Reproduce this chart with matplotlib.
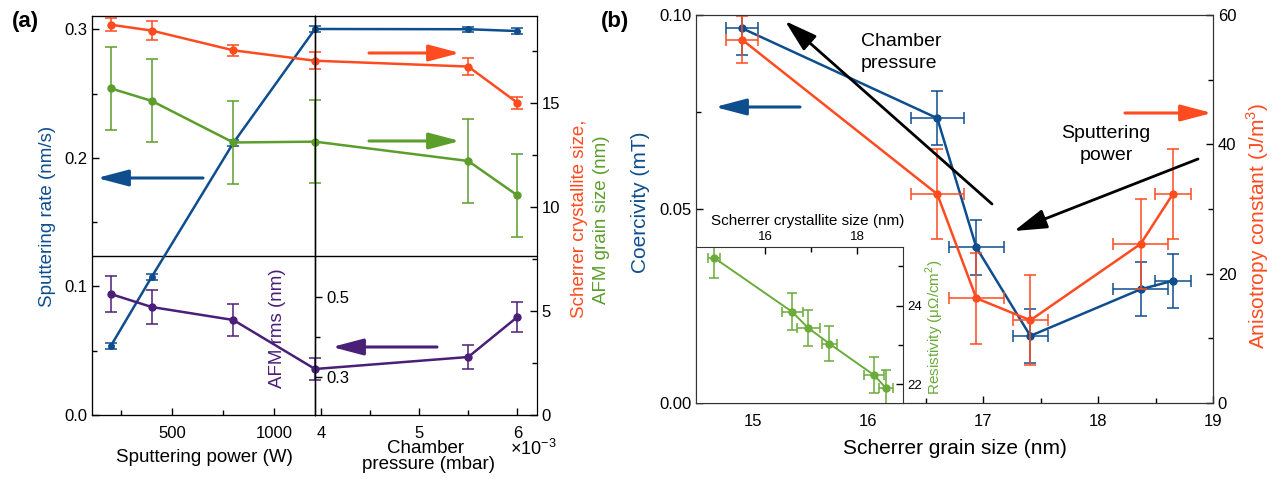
import matplotlib
matplotlib.use("Agg")
import matplotlib.pyplot as plt
import matplotlib.ticker as mticker

plt.rcParams['font.family'] = ['Liberation Sans', 'DejaVu Sans']
plt.rcParams['mathtext.fontset'] = 'custom'
plt.rcParams['mathtext.rm'] = 'Liberation Sans'

# ---- panel (a) data ----
power = [200, 400, 800, 1200]          # W
pressure = [3.94, 5.5, 6.0]            # x1e-3 mbar
rate_power = [0.0537, 0.1074, 0.2117, 0.3004]
rate_pressure = [0.3004, 0.3002, 0.2988]
rate_err = [0.002, 0.002, 0.002, 0.002]
scherrer_power = [18.76, 18.48, 17.53, 17.03]
scherrer_power_err = [0.3, 0.44, 0.26, 0.4]
scherrer_pressure = [17.03, 16.75, 15.01]
scherrer_pressure_err = [0.4, 0.39, 0.29]
afm_power = [15.7, 15.1, 13.1, 13.14]
afm_pressure = [13.14, 12.21, 10.56]
afm_err = [2.0, 2.0, 2.0, 2.0]
rms_power = [0.5075, 0.475, 0.4425, 0.32]
rms_power_err = [0.045, 0.042, 0.04, 0.028]
rms_pressure = [0.32, 0.35, 0.45]
rms_pressure_err = [0.028, 0.03, 0.038]

# ---- panel (b) data ----
grain = [14.9, 16.6, 16.94, 17.41, 18.37, 18.65]
grain_err = [0.14, 0.23, 0.24, 0.15, 0.24, 0.155]
coercivity = [0.0966, 0.0734, 0.0401, 0.0173, 0.0293, 0.0315]
coer_err = [0.007, 0.007, 0.007, 0.007, 0.007, 0.007]
anisotropy = [56.2, 32.3, 16.2, 12.8, 24.6, 32.3]
aniso_err = [3.6, 7, 7, 7, 7, 7]
crystallite = [14.9, 16.59, 16.94, 17.4, 18.37, 18.63]
cryst_err = [0.13, 0.23, 0.25, 0.16, 0.22, 0.15]
resistivity = [25.21, 23.84, 23.43, 23.03, 22.23, 21.9]
res_err = [0.5, 0.47, 0.46, 0.45, 0.45, 0.45]

blue = '#0e4e8e'
red = '#ff4b1f'
green = '#5c9e2c'
green2 = '#6aab3a'
purple = '#4a1f78'

W, H = 1283, 487
fig = plt.figure(figsize=(W / 100, H / 100), dpi=100)


def box(l, t, r, b):
    return [l / W, 1 - b / H, (r - l) / W, (b - t) / H]


def ftext(x, y, s, **kw):
    fig.text(x / W, 1 - y / H, s, **kw)


def arrow(ax, x1, y1, x2, y2, color, lw=2.2, hl=1.9, hw=0.5):
    ax.annotate('', xy=(x2, H - y2), xytext=(x1, H - y1),
                xycoords='figure pixels', textcoords='figure pixels',
                annotation_clip=False,
                arrowprops=dict(arrowstyle='-|>,head_length=%s,head_width=%s' % (hl, hw),
                                color=color, lw=lw, shrinkA=0, shrinkB=0))


eb = dict(marker='o', ms=5, lw=1.8, elinewidth=1.1, capsize=4, capthick=1.1)
tk = dict(direction='in', length=5, width=1, labelsize=12)
tkm = dict(direction='in', length=3.5, width=1)

# ================= panel (a) =================
rate_lim = (0, 0.3105)
grain_lim = (0, 19.18)
rms_lim = (0.205, 1.2025)

axP = fig.add_axes(box(92, 16, 315, 415))
axC = fig.add_axes(box(315, 16, 537, 415))
gP, gC = axP.twinx(), axC.twinx()
rP, rC = axP.twinx(), axC.twinx()

for a in (axP, axC):
    a.set_ylim(rate_lim)
    a.axhline(0.1237, color='k', lw=1)
for a in (gP, gC):
    a.set_ylim(grain_lim)
for a in (rP, rC):
    a.set_ylim(rms_lim)
for a in (axP, gP, rP):
    a.set_xlim(108, 1200)
for a in (axC, gC, rC):
    a.set_xlim(3.94, 6.2)

axP.errorbar(power, rate_power, yerr=rate_err, color=blue, **dict(eb, ms=4))
axC.errorbar(pressure, rate_pressure, yerr=rate_err[:3], color=blue, **dict(eb, ms=4))
gP.errorbar(power, scherrer_power, yerr=scherrer_power_err, color=red, **eb)
gC.errorbar(pressure, scherrer_pressure, yerr=scherrer_pressure_err, color=red, **eb)
gP.errorbar(power, afm_power, yerr=afm_err, color=green, **eb)
gC.errorbar(pressure, afm_pressure, yerr=afm_err[:3], color=green, **eb)
rP.errorbar(power, rms_power, yerr=rms_power_err, color=purple, **eb)
rC.errorbar(pressure, rms_pressure, yerr=rms_pressure_err, color=purple, **eb)

# left axis: sputtering rate
axP.set_yticks([0, 0.1, 0.2, 0.3])
axP.set_yticks([0.05, 0.15, 0.25], minor=True)
axP.yaxis.set_major_formatter(mticker.FormatStrFormatter('%.1f'))
axP.set_xticks([500, 1000])
axP.set_xticks([250, 750], minor=True)
axP.tick_params(which='major', right=False, **tk)
axP.tick_params(which='minor', right=False, **tkm)
axP.tick_params(axis='x', pad=8)
axC.set_xticks([4, 5, 6])
axC.set_xticks([4.5, 5.5], minor=True)
axC.set_yticks([])
axC.tick_params(which='major', **tk)
axC.tick_params(which='minor', **tkm)
axC.tick_params(axis='x', pad=8)

for a in (gP, rP):
    a.set_yticks([])
gC.set_yticks([0, 5, 10, 15])
gC.set_yticks([2.5, 7.5, 12.5, 17.5], minor=True)
gC.tick_params(which='major', **tk)
gC.tick_params(which='minor', **tkm)

rC.spines['right'].set_position(('axes', 0))
rC.set_yticks([0.3, 0.5])
rC.set_yticks([0.4], minor=True)
rC.yaxis.set_major_formatter(mticker.FormatStrFormatter('%.1f'))
rC.tick_params(which='major', direction='out', length=5, width=1, labelsize=12, pad=3)
rC.tick_params(which='minor', direction='out', length=3.5, width=1)

ftext(25, 22, '(a)', fontsize=16, fontweight='bold', ha='center', va='center')
ftext(48, 216, 'Sputtering rate (nm/s)', color=blue, fontsize=13.5, rotation=90,
      ha='center', va='center')
ftext(204, 458, 'Sputtering power (W)', fontsize=13.5, ha='center', va='center')
ftext(426, 453, 'Chamber', fontsize=13.5, ha='center', va='baseline')
ftext(428, 469, 'pressure (mbar)', fontsize=13.5, ha='center', va='baseline')
ftext(533, 455, r'$\times\mathregular{10^{-3}}$', fontsize=13, ha='center', va='baseline')
ftext(580, 219, 'Scherrer crystallite size,', color=red, fontsize=13.5, rotation=90,
      ha='center', va='center')
ftext(602, 220, 'AFM grain size (nm)', color=green, fontsize=13.5, rotation=90,
      ha='center', va='center')
ftext(277, 328, 'AFM rms (nm)', color=purple, fontsize=13.5, rotation=90,
      ha='center', va='center')

arrow(rC, 203, 178, 97, 178, blue)
arrow(rC, 369, 53, 460, 53, red)
arrow(rC, 369, 141, 460, 141, green)
arrow(rC, 437, 347, 332, 347, purple)

# ================= panel (b) =================
axB = fig.add_axes(box(696, 15, 1213, 403))
tB = axB.twinx()
axB.set_xlim(14.5, 19)
axB.set_ylim(0, 0.1)
tB.set_ylim(0, 60)

axB.errorbar(grain, coercivity, xerr=grain_err, yerr=coer_err, color=blue, **eb)
tB.errorbar(grain, anisotropy, xerr=grain_err, yerr=aniso_err, color=red, **eb)

axB.set_xticks([15, 16, 17, 18, 19])
axB.set_xticks([15.5, 16.5, 17.5, 18.5], minor=True)
axB.set_yticks([0, 0.05, 0.1])
axB.set_yticks([0.025, 0.075], minor=True)
axB.yaxis.set_major_formatter(mticker.FormatStrFormatter('%.2f'))
axB.tick_params(which='major', right=False, **tk)
axB.tick_params(which='minor', right=False, **tkm)
axB.tick_params(axis='x', pad=8)
tB.set_yticks([0, 20, 40, 60])
tB.set_yticks([10, 30, 50], minor=True)
tB.tick_params(which='major', **tk)
tB.tick_params(which='minor', **tkm)
for a in (axB, tB):
    for s in a.spines.values():
        s.set_color('#333333')

ins = fig.add_axes(box(696, 247, 903, 403))
ins.set_facecolor('white')
ins.set_xlim(14.5, 19)
ins.set_ylim(21.52, 25.49)
ins.errorbar(crystallite, resistivity, xerr=cryst_err, yerr=res_err, color=green2,
             marker='o', ms=5, lw=1.4, elinewidth=1.1, capsize=3.5, capthick=1.1)
ins.xaxis.tick_top()
ins.yaxis.tick_right()
ins.set_xticks([16, 18])
ins.set_xticks([17], minor=True)
ins.set_yticks([22, 24])
ins.set_yticks([23, 25], minor=True)
ins.tick_params(which='major', direction='in', length=5, width=1, labelsize=9.5, pad=3)
ins.tick_params(which='minor', direction='in', length=3.5, width=1)
for s in ins.spines.values():
    s.set_color('#333333')

ftext(615, 22, '(b)', fontsize=16, fontweight='bold', ha='center', va='center')
ftext(640, 202, 'Coercivity (mT)', color=blue, fontsize=15, rotation=90,
      ha='center', va='center')
ftext(1258, 226, r'Anisotropy constant (J/m$^\mathregular{3}$)', color=red, fontsize=15,
      rotation=90, ha='center', va='center')
ftext(955, 449, 'Scherrer grain size (nm)', fontsize=15, ha='center', va='center')
ftext(861, 42, 'Chamber', fontsize=14, ha='left', va='center')
ftext(861, 63, 'pressure', fontsize=14, ha='left', va='center')
ftext(1106, 134, 'Sputtering', fontsize=14, ha='center', va='center')
ftext(1106, 156, 'power', fontsize=14, ha='center', va='center')
ftext(808, 221, 'Scherrer crystallite size (nm)', fontsize=11, ha='center', va='center')
ftext(935, 327, 'Resistivity (\u03bc\u03a9/cm$^\\mathregular{2}$)', color=green2, fontsize=11,
      rotation=90, ha='center', va='center')

arrow(ins, 800, 107, 715, 107, blue)
arrow(ins, 1125, 113, 1212, 113, red)
arrow(ins, 992, 204, 785, 21, 'black', lw=2, hl=2.0, hw=0.6)
arrow(ins, 1198, 159, 1014, 231, 'black', lw=2, hl=2.0, hw=0.6)

fig.savefig('out.png', dpi=100)
